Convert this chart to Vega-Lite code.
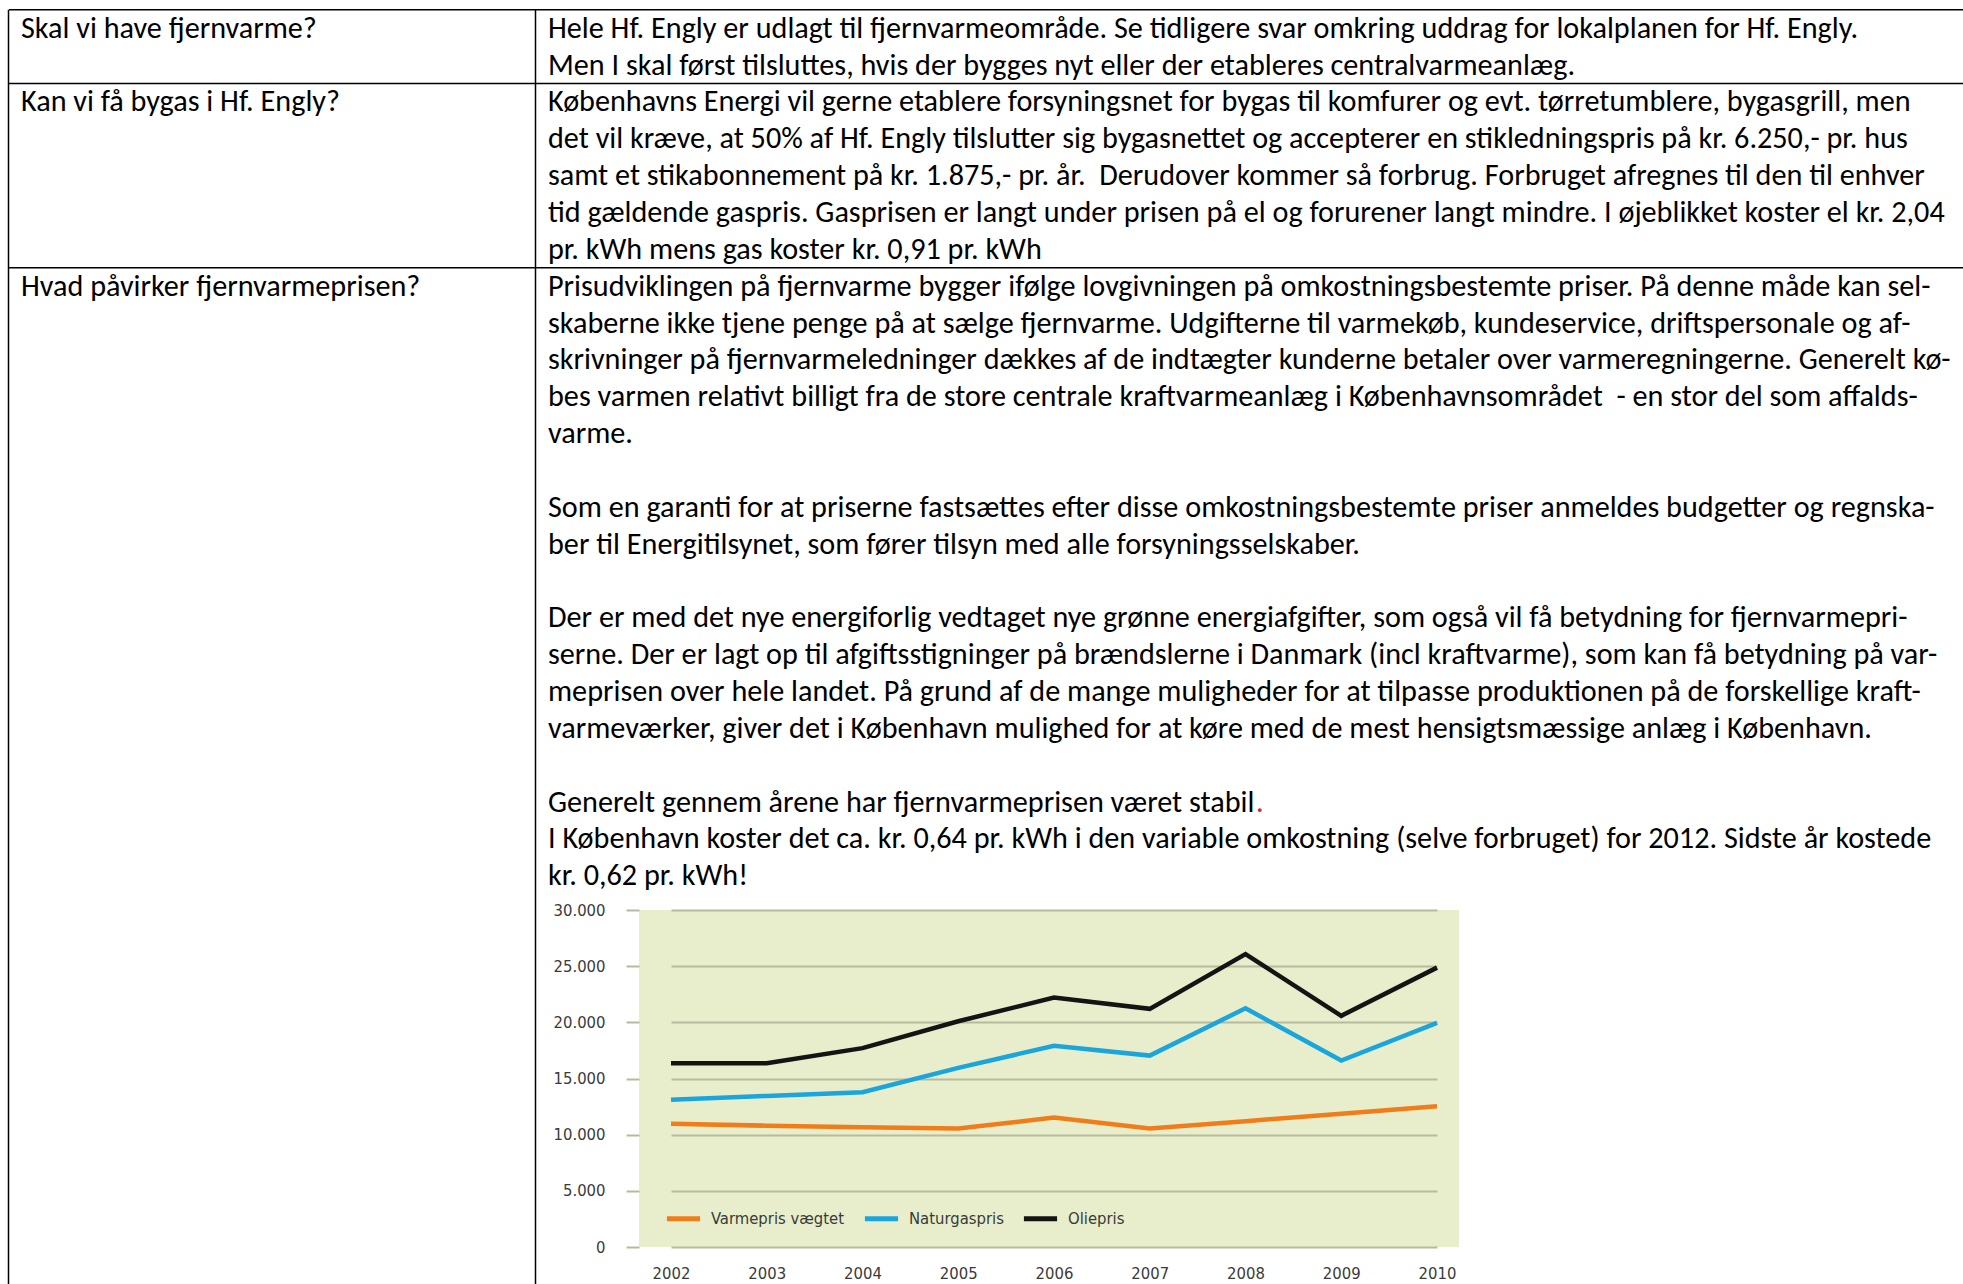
{
  "$schema": "https://vega.github.io/schema/vega-lite/v6.json",
  "width": 820,
  "height": 337,
  "autosize": {"type": "none"},
  "padding": {"left": 639, "top": 910, "right": 504, "bottom": 37},
  "background": "white",
  "config": {"view": {"fill": "#e8eecb", "stroke": null}},
  "datasets": {
    "prices": [
      {"year": 2002, "series": "Varmepris vægtet", "value": 10970},
      {"year": 2003, "series": "Varmepris vægtet", "value": 10800},
      {"year": 2004, "series": "Varmepris vægtet", "value": 10650},
      {"year": 2005, "series": "Varmepris vægtet", "value": 10550},
      {"year": 2006, "series": "Varmepris vægtet", "value": 11520},
      {"year": 2007, "series": "Varmepris vægtet", "value": 10560},
      {"year": 2008, "series": "Varmepris vægtet", "value": 11200},
      {"year": 2009, "series": "Varmepris vægtet", "value": 11870},
      {"year": 2010, "series": "Varmepris vægtet", "value": 12540},
      {"year": 2002, "series": "Naturgaspris", "value": 13100},
      {"year": 2003, "series": "Naturgaspris", "value": 13450},
      {"year": 2004, "series": "Naturgaspris", "value": 13780},
      {"year": 2005, "series": "Naturgaspris", "value": 15950},
      {"year": 2006, "series": "Naturgaspris", "value": 17910},
      {"year": 2007, "series": "Naturgaspris", "value": 17040},
      {"year": 2008, "series": "Naturgaspris", "value": 21250},
      {"year": 2009, "series": "Naturgaspris", "value": 16600},
      {"year": 2010, "series": "Naturgaspris", "value": 19950},
      {"year": 2002, "series": "Oliepris", "value": 16350},
      {"year": 2003, "series": "Oliepris", "value": 16350},
      {"year": 2004, "series": "Oliepris", "value": 17700},
      {"year": 2005, "series": "Oliepris", "value": 20100},
      {"year": 2006, "series": "Oliepris", "value": 22200},
      {"year": 2007, "series": "Oliepris", "value": 21200},
      {"year": 2008, "series": "Oliepris", "value": 26080},
      {"year": 2009, "series": "Oliepris", "value": 20580},
      {"year": 2010, "series": "Oliepris", "value": 24870}
    ],
    "rows": [
      {"first": 0, "col": "q", "text": "Skal vi have fjernvarme?"},
      {"first": 2, "col": "q", "text": "Kan vi få bygas i Hf. Engly?"},
      {"first": 7, "col": "q", "text": "Hvad påvirker fjernvarmeprisen?"}
    ],
    "columns": [{"col": "q"}, {"col": "a"}],
    "accent": [
      {"col": "a", "line": 21, "text": "."}
    ],
    "doc": [
      {"col": "a", "line": 0, "text": "Hele Hf. Engly er udlagt til fjernvarmeområde. Se tidligere svar omkring uddrag for lokalplanen for Hf. Engly."},
      {"col": "a", "line": 1, "text": "Men I skal først tilsluttes, hvis der bygges nyt eller der etableres centralvarmeanlæg."},
      {"col": "a", "line": 2, "text": "Københavns Energi vil gerne etablere forsyningsnet for bygas til komfurer og evt. tørretumblere, bygasgrill, men"},
      {"col": "a", "line": 3, "text": "det vil kræve, at 50% af Hf. Engly tilslutter sig bygasnettet og accepterer en stikledningspris på kr. 6.250,- pr. hus"},
      {"col": "a", "line": 4, "text": "samt et stikabonnement på kr. 1.875,- pr. år.\u00a0 Derudover kommer så forbrug. Forbruget afregnes til den til enhver"},
      {"col": "a", "line": 5, "text": "tid gældende gaspris. Gasprisen er langt under prisen på el og forurener langt mindre. I øjeblikket koster el kr. 2,04"},
      {"col": "a", "line": 6, "text": "pr. kWh mens gas koster kr. 0,91 pr. kWh"},
      {"col": "a", "line": 7, "text": "Prisudviklingen på fjernvarme bygger ifølge lovgivningen på omkostningsbestemte priser. På denne måde kan sel-"},
      {"col": "a", "line": 8, "text": "skaberne ikke tjene penge på at sælge fjernvarme. Udgifterne til varmekøb, kundeservice, driftspersonale og af-"},
      {"col": "a", "line": 9, "text": "skrivninger på fjernvarmeledninger dækkes af de indtægter kunderne betaler over varmeregningerne. Generelt kø-"},
      {"col": "a", "line": 10, "text": "bes varmen relativt billigt fra de store centrale kraftvarmeanlæg i Københavnsområdet\u00a0 - en stor del som affalds-"},
      {"col": "a", "line": 11, "text": "varme."},
      {"col": "a", "line": 13, "text": "Som en garanti for at priserne fastsættes efter disse omkostningsbestemte priser anmeldes budgetter og regnska-"},
      {"col": "a", "line": 14, "text": "ber til Energitilsynet, som fører tilsyn med alle forsyningsselskaber."},
      {"col": "a", "line": 16, "text": "Der er med det nye energiforlig vedtaget nye grønne energiafgifter, som også vil få betydning for fjernvarmepri-"},
      {"col": "a", "line": 17, "text": "serne. Der er lagt op til afgiftsstigninger på brændslerne i Danmark (incl kraftvarme), som kan få betydning på var-"},
      {"col": "a", "line": 18, "text": "meprisen over hele landet. På grund af de mange muligheder for at tilpasse produktionen på de forskellige kraft-"},
      {"col": "a", "line": 19, "text": "varmeværker, giver det i København mulighed for at køre med de mest hensigtsmæssige anlæg i København."},
      {"col": "a", "line": 21, "text": "Generelt gennem årene har fjernvarmeprisen været stabil"},
      {"col": "a", "line": 22, "text": "I København koster det ca. kr. 0,64 pr. kWh i den variable omkostning (selve forbruget) for 2012. Sidste år kostede"},
      {"col": "a", "line": 23, "text": "kr. 0,62 pr. kWh!"}
    ]
  },
  "layer": [
    {
      "data": {"name": "prices"},
      "mark": {"type": "line", "strokeWidth": 4.5, "strokeJoin": "miter"},
      "encoding": {
        "x": {
          "field": "year", "type": "ordinal",
          "scale": {"type": "point", "range": [32, 798], "padding": 0},
          "axis": {"title": null, "domain": false, "ticks": false, "grid": false, "labelAngle": 0, "labelPadding": 18,
                   "labelFont": "Liberation Sans Narrow, DejaVu Sans Condensed, sans-serif", "labelFontSize": 16.5, "labelColor": "#3a3a3a"}
        },
        "y": {
          "field": "value", "type": "quantitative",
          "scale": {"domain": [0, 30000], "nice": false},
          "axis": {"title": null, "values": [0, 5000, 10000, 15000, 20000, 25000, 30000],
                   "labelExpr": "replace(format(datum.value, ',d'), ',', '.')",
                   "domain": false, "ticks": true, "tickSize": 13, "tickColor": "#b6bb9e", "tickWidth": 2,
                   "grid": true, "gridColor": "#b6bb9e", "gridWidth": 2, "labelPadding": 21,
                   "labelFont": "Liberation Sans Narrow, DejaVu Sans Condensed, sans-serif", "labelFontSize": 16.5, "labelColor": "#3a3a3a"}
        },
        "color": {
          "field": "series", "type": "nominal",
          "scale": {"domain": ["Varmepris vægtet", "Naturgaspris", "Oliepris"], "range": ["#f07d1a", "#1aa6dc", "#141414"]},
          "legend": {"title": null, "orient": "none", "legendX": 25, "legendY": 289, "direction": "horizontal",
                     "symbolType": "stroke", "symbolStrokeWidth": 5, "symbolSize": 1100, "columnPadding": 9, "labelOffset": 8, "padding": 0,
                     "labelFont": "Liberation Sans Narrow, DejaVu Sans Condensed, sans-serif", "labelFontSize": 16.5, "labelColor": "#3a3a3a"}
        }
      }
    },
    {
      "layer": [
        {
          "data": {"name": "accent"},
          "mark": {"type": "text", "align": "left", "baseline": "middle", "fontSize": 30.2, "font": "Carlito, Lato, sans-serif", "color": "#e0201b", "dx": 708},
          "encoding": {
            "x": {"field": "col", "type": "nominal", "scale": {"type": "point", "domain": ["q", "a"], "range": [-618, -91], "padding": 0}, "axis": null},
            "y": {"field": "line", "type": "quantitative", "scale": {"domain": [0, 23], "range": [-881.2, -33.7], "nice": false, "zero": false}, "axis": null},
            "text": {"field": "text"}
          }
        },
        {
          "data": {"name": "doc"},
          "mark": {"type": "text", "align": "left", "baseline": "middle", "fontSize": 30.2, "font": "Carlito, Lato, sans-serif", "color": "#000000"},
          "encoding": {
            "x": {"field": "col", "type": "nominal", "axis": null},
            "y": {"field": "line", "type": "quantitative", "axis": null},
            "text": {"field": "text"}
          }
        },
        {
          "data": {"name": "rows"},
          "mark": {"type": "text", "align": "left", "baseline": "middle", "fontSize": 30.2, "font": "Carlito, Lato, sans-serif", "color": "#000000"},
          "encoding": {
            "x": {"field": "col", "type": "nominal", "axis": null},
            "y": {"field": "first", "type": "quantitative", "axis": null},
            "text": {"field": "text"}
          }
        },
        {
          "data": {"name": "rows"},
          "mark": {"type": "rule", "color": "#000000", "strokeWidth": 1.5, "xOffset": -12, "x2Offset": 1420, "yOffset": -19},
          "encoding": {
            "x": {"datum": "q", "type": "nominal", "axis": null},
            "x2": {"datum": "a"},
            "y": {"field": "first", "type": "quantitative", "axis": null}
          }
        },
        {
          "data": {"name": "columns"},
          "mark": {"type": "rule", "color": "#000000", "strokeWidth": 1.5, "xOffset": -12.5, "yOffset": -19, "y2Offset": 420},
          "encoding": {
            "x": {"field": "col", "type": "nominal", "axis": null},
            "y": {"datum": 0, "type": "quantitative", "axis": null},
            "y2": {"datum": 23}
          }
        }
      ]
    }
  ],
  "resolve": {"scale": {"x": "independent", "y": "independent"}, "axis": {"x": "independent", "y": "independent"}}
}
